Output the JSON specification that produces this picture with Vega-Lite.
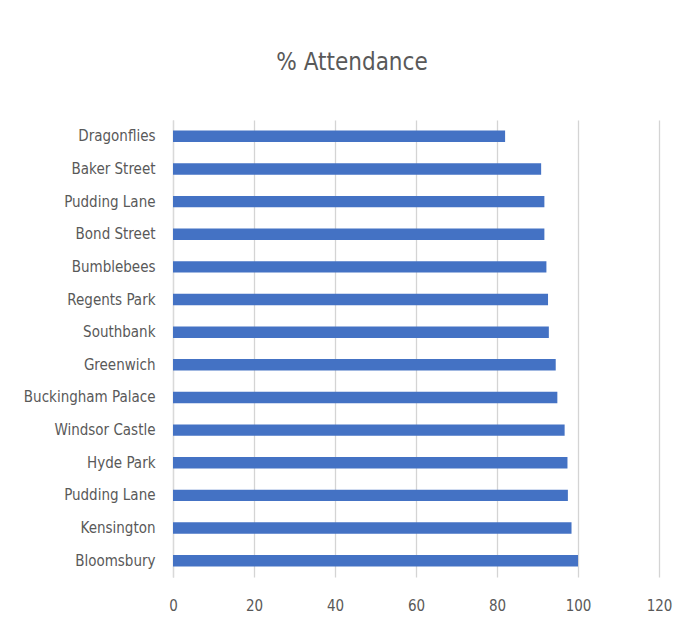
{
  "$schema": "https://vega.github.io/schema/vega-lite/v6.json",
  "autosize": {"type": "none"},
  "width": 486,
  "height": 457,
  "padding": {"left": 173, "top": 120, "right": 27, "bottom": 62},
  "background": "white",
  "title": {
    "text": "% Attendance",
    "font": "DejaVu Sans Condensed",
    "fontSize": 24,
    "fontWeight": "normal",
    "color": "#595959",
    "anchor": "middle",
    "frame": "group",
    "dx": -64,
    "offset": 45
  },
  "data": {
    "values": [
      {"label": "Dragonflies", "value": 82.0},
      {"label": "Baker Street", "value": 90.9},
      {"label": "Pudding Lane", "value": 91.7},
      {"label": "Bond Street", "value": 91.7},
      {"label": "Bumblebees", "value": 92.2},
      {"label": "Regents Park", "value": 92.6},
      {"label": "Southbank", "value": 92.8},
      {"label": "Greenwich", "value": 94.5},
      {"label": "Buckingham Palace", "value": 94.9},
      {"label": "Windsor Castle", "value": 96.7},
      {"label": "Hyde Park", "value": 97.4},
      {"label": "Pudding Lane ", "value": 97.5},
      {"label": "Kensington", "value": 98.4},
      {"label": "Bloomsbury", "value": 100.0}
    ]
  },
  "mark": {"type": "bar", "color": "#4472C4"},
  "encoding": {
    "y": {
      "field": "label",
      "type": "nominal",
      "sort": null,
      "scale": {"paddingInner": 0.65, "paddingOuter": 0.325},
      "axis": {
        "title": null,
        "labelExpr": "trim(datum.label)",
        "labelFont": "DejaVu Sans Condensed",
        "labelFontSize": 15,
        "labelColor": "#595959",
        "labelPadding": 18,
        "ticks": false,
        "domain": true,
        "domainColor": "#d9d9d9",
        "domainWidth": 1.3,
        "grid": false
      }
    },
    "x": {
      "field": "value",
      "type": "quantitative",
      "scale": {"domain": [0, 120], "nice": false, "zero": true},
      "axis": {
        "title": null,
        "values": [0, 20, 40, 60, 80, 100, 120],
        "labelFont": "DejaVu Sans Condensed",
        "labelFontSize": 15,
        "labelColor": "#595959",
        "labelPadding": 21,
        "labelFlush": false,
        "ticks": false,
        "domain": false,
        "grid": true,
        "gridColor": "#d4d4d4",
        "gridWidth": 1.3
      }
    }
  },
  "config": {"view": {"stroke": null}}
}
